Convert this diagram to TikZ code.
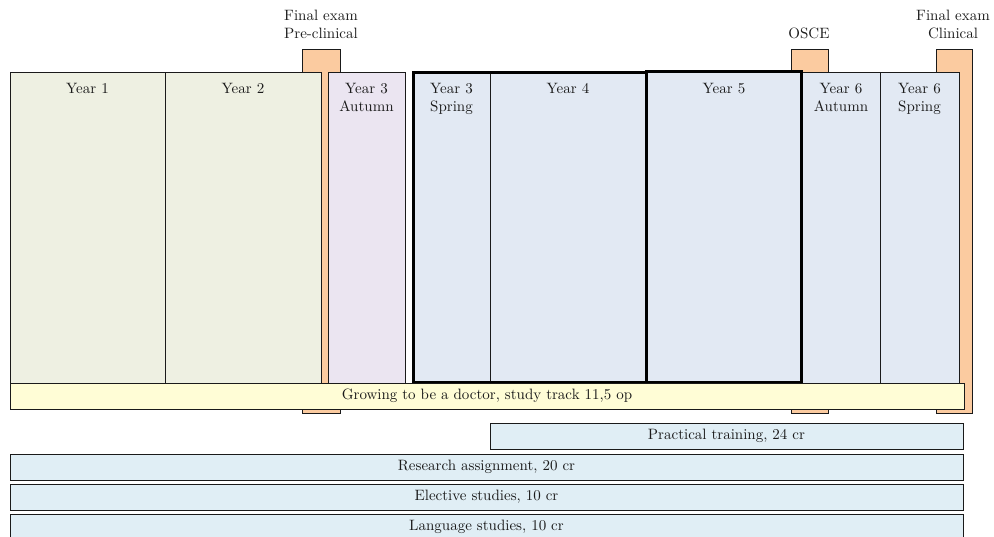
\documentclass[tikz,border=0pt]{standalone}
\usetikzlibrary{fit}

\definecolor{preclin}{HTML}{EEF0E2}
\definecolor{transit}{HTML}{EBE5F1}
\definecolor{clin}{HTML}{E2E9F3}
\definecolor{examorange}{HTML}{FBCBA0}
\definecolor{growyellow}{HTML}{FFFDD6}
\definecolor{trackblue}{HTML}{E0EEF5}
\definecolor{edge}{HTML}{1A1A1A}

\begin{document}
\begin{tikzpicture}[
    x=0.6667pt, y=-0.6667pt,
    frame/.style={draw=edge, line width=0.6pt, inner sep=0pt},
    yearbox/.style={frame, fill=#1},
    exambar/.style={frame, fill=examorange},
    trackbar/.style={frame, fill=trackblue},
    heavyframe/.style={draw=black, line width=2pt, inner sep=0pt},
    yeartext/.style={anchor=north, align=center, inner sep=0pt, text=edge},
    examtext/.style={anchor=base, align=center, inner sep=0pt, text=edge},
    bartext/.style={anchor=center, inner sep=0pt, text=edge},
  ]
  \clip (0,0) rectangle (994,537);

  % exam milestones, drawn behind the year columns
  \node[exambar, fit={(302,49) (340,413)}] (exampre) {};
  \node[exambar, fit={(791,49) (828,413)}] (osce) {};
  \node[exambar, fit={(936,49) (972,413)}] (examclin) {};

  \node[examtext] (exampretxt) at (321,21) {Final exam};
  \node[examtext] (exampretxt2) at (321,39) {Pre-clinical};
  \node[examtext] (oscetxt) at (809,39) {OSCE};
  \node[examtext] (examclintxt) at (953,21) {Final exam};
  \node[examtext] (examclintxt2) at (953,39) {Clinical};

  % year columns
  \node[yearbox=preclin, fit={(10,72) (165,383)}] (y1) {};
  \node[yearbox=preclin, fit={(165,72) (321,383)}] (y2) {};
  \node[yearbox=transit, fit={(328,72) (405,383)}] (y3a) {};
  \node[yearbox=clin, fit={(413,72) (490,383)}] (y3s) {};
  \node[yearbox=clin, fit={(490,72) (646,383)}] (y4) {};
  \node[yearbox=clin, fit={(646,72) (802,383)}] (y5) {};
  \node[yearbox=clin, fit={(802,72) (880,383)}] (y6a) {};
  \node[yearbox=clin, fit={(880,72) (959,383)}] (y6s) {};

  \node[yeartext] (y1t) at ([yshift=-7.4pt]y1.north) {Year 1};
  \node[yeartext] (y2t) at ([yshift=-7.4pt]y2.north) {Year 2};
  \node[yeartext] (y3at) at ([yshift=-7.4pt]y3a.north) {Year 3\\Autumn};
  \node[yeartext] (y3st) at ([yshift=-7.4pt]y3s.north) {Year 3\\Spring};
  \node[yeartext] (y4t) at ([yshift=-7.4pt]y4.north) {Year 4};
  \node[yeartext] (y5t) at ([yshift=-7.4pt]y5.north) {Year 5};
  \node[yeartext] (y6at) at ([yshift=-7.4pt]y6a.north) {Year 6\\Autumn};
  \node[yeartext] (y6st) at ([yshift=-7.4pt]y6s.north) {Year 6\\Spring};

  % heavy outlines grouping the clinical blocks
  \node[heavyframe, fit={(413,73) (646,383)}] (block34) {};
  \node[heavyframe, fit={(646,72) (801,383)}] (block5) {};

  % study tracks
  \node[frame, fill=growyellow, fit={(10,383) (964,409)}] (grow) {};
  \node[trackbar, fit={(490,423) (963,449)}] (practical) {};
  \node[trackbar, fit={(10,454) (963,480)}] (research) {};
  \node[trackbar, fit={(10,484) (963,510)}] (elective) {};
  \node[trackbar, fit={(10,514) (963,540)}] (language) {};

  \node[bartext] (growt) at (grow.center) {Growing to be a doctor, study track 11,5 op};
  \node[bartext] (practicalt) at (practical.center) {Practical training, 24 cr};
  \node[bartext] (researcht) at (research.center) {Research assignment, 20 cr};
  \node[bartext] (electivet) at (elective.center) {Elective studies, 10 cr};
  \node[bartext] (languaget) at (language.center) {Language studies, 10 cr};
\end{tikzpicture}
\end{document}
